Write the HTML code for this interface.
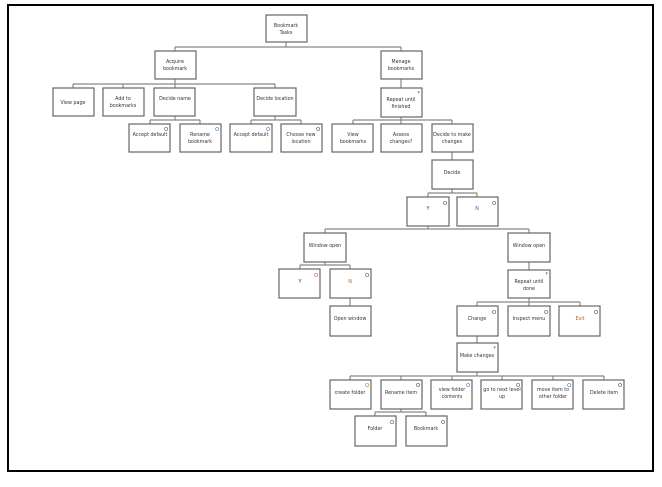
<!DOCTYPE html>
<html><head><meta charset="utf-8"><style>
html,body{margin:0;padding:0;background:#fff}
svg{display:block}
text{font-family:"DejaVu Sans","Liberation Sans",sans-serif;font-size:4.8px;fill:#333;text-anchor:middle}
.m{font-size:5px;text-anchor:end}
rect.b{fill:#fff;stroke:#666;stroke-width:1.2}
path{fill:none;stroke:#888;stroke-width:1.2}
</style></head><body>
<svg width="662" height="487" viewBox="0 0 662 487">
<rect x="8" y="5" width="645" height="466" fill="none" stroke="#000" stroke-width="2"/>
<path d="M286 42V47M175 47H401M175 47V52M401 47V52"/>
<path d="M175 79V84M73 84H275M73 84V88M123 84V88M175 84V88M275 84V88"/>
<path d="M401 79V88"/>
<path d="M175 116V120M150 120H200M150 120V124M200 120V124"/>
<path d="M275 116V120M251 120H301M251 120V124M301 120V124"/>
<path d="M401 117V120M353 120H452M353 120V124M401 120V124M452 120V124"/>
<path d="M452 152V160"/>
<path d="M452 189V193M428 193H477M428 193V197M477 193V197"/>
<path d="M428 226V229M325 229H529M325 229V233M529 229V233"/>
<path d="M325 262V265M300 265H350M300 265V269M350 265V269"/>
<path d="M350 298V306"/>
<path d="M529 262V270"/>
<path d="M529 298V302M477 302H580M477 302V306M529 302V306M580 302V306"/>
<path d="M477 336V343"/>
<path d="M477 372V376M350 376H604M350 376V380M401 376V380M452 376V380M502 376V380M553 376V380M604 376V380"/>
<path d="M401 409V412M375 412H426M375 412V416M426 412V416"/>
<g>
<rect class="b" x="266" y="15" width="41" height="27"/><text x="286" y="27">Bookmark</text><text x="286" y="34">Tasks</text>
<rect class="b" x="155" y="51" width="41" height="28"/><text x="175" y="63">Acquire</text><text x="175" y="70">bookmark</text>
<rect class="b" x="381" y="51" width="41" height="28"/><text x="401" y="63">Manage</text><text x="401" y="70">bookmarks</text>

<rect class="b" x="53" y="88" width="41" height="28"/><text x="73" y="104">View page</text>
<rect class="b" x="103" y="88" width="41" height="28"/><text x="123" y="100">Add to</text><text x="123" y="107">bookmarks</text>
<rect class="b" x="154" y="88" width="41" height="28"/><text x="175" y="100">Decide name</text>
<rect class="b" x="254" y="88" width="42" height="28"/><text x="275" y="100">Decide location</text>
<rect class="b" x="381" y="88" width="41" height="29"/><text x="401" y="101">Repeat until</text><text x="401" y="108">finished</text><text class="m" x="420" y="95">*</text>

<rect class="b" x="129" y="124" width="41" height="28"/><text x="150" y="136">Accept default</text><text class="m" x="168" y="131">O</text>
<rect class="b" x="180" y="124" width="41" height="28"/><text x="200" y="136">Rename</text><text x="200" y="143">bookmark</text><text class="m" x="219" y="131" style="fill:#26a">O</text>
<rect class="b" x="230" y="124" width="42" height="28"/><text x="251" y="136">Accept default</text><text class="m" x="270" y="131" style="fill:#26a">O</text>
<rect class="b" x="281" y="124" width="41" height="28"/><text x="301" y="136">Choose new</text><text x="301" y="143">location</text><text class="m" x="320" y="131">O</text>
<rect class="b" x="332" y="124" width="41" height="28"/><text x="353" y="136">View</text><text x="353" y="143">bookmarks</text>
<rect class="b" x="381" y="124" width="41" height="28"/><text x="401" y="136">Assess</text><text x="401" y="143">changes?</text>
<rect class="b" x="432" y="124" width="41" height="28"/><text x="452" y="136">Decide to make</text><text x="452" y="143">changes</text>

<rect class="b" x="432" y="160" width="41" height="29"/><text x="452" y="174">Decide</text>
<rect class="b" x="407" y="197" width="42" height="29"/><text x="428" y="210">Y</text><text class="m" x="447" y="205">O</text>
<rect class="b" x="457" y="197" width="41" height="29"/><text x="477" y="210" style="fill:#26a">N</text><text class="m" x="496" y="205">O</text>

<rect class="b" x="304" y="233" width="42" height="29"/><text x="325" y="247">Window open</text>
<rect class="b" x="508" y="233" width="42" height="29"/><text x="529" y="247">Window open</text>
<rect class="b" x="279" y="269" width="41" height="29"/><text x="300" y="283">Y</text><text class="m" x="318" y="277" style="fill:#c44">O</text>
<rect class="b" x="330" y="269" width="41" height="29"/><text x="350" y="283" style="fill:#b60">N</text><text class="m" x="369" y="277">O</text>
<rect class="b" x="330" y="306" width="41" height="30"/><text x="350" y="320">Open window</text>
<rect class="b" x="508" y="270" width="42" height="28"/><text x="529" y="283">Repeat until</text><text x="529" y="290">done</text><text class="m" x="548" y="276">*</text>

<rect class="b" x="457" y="306" width="41" height="30"/><text x="477" y="320">Change</text><text class="m" x="496" y="314">O</text>
<rect class="b" x="508" y="306" width="42" height="30"/><text x="529" y="320">Inspect menu</text><text class="m" x="548" y="314">O</text>
<rect class="b" x="559" y="306" width="41" height="30"/><text x="580" y="320" style="fill:#b60">Exit</text><text class="m" x="598" y="314">O</text>

<rect class="b" x="457" y="343" width="41" height="29"/><text x="477" y="357">Make changes</text><text class="m" x="496" y="350">*</text>

<rect class="b" x="330" y="380" width="41" height="29"/><text x="350" y="394">create folder</text><text class="m" x="369" y="387" style="fill:#b60">O</text>
<rect class="b" x="381" y="380" width="41" height="29"/><text x="401" y="394">Rename item</text><text class="m" x="420" y="387">O</text>
<rect class="b" x="431" y="380" width="41" height="29"/><text x="452" y="391">view folder</text><text x="452" y="398">contents</text><text class="m" x="470" y="387" style="fill:#26a">O</text>
<rect class="b" x="481" y="380" width="41" height="29"/><text x="502" y="391">go to next level</text><text x="502" y="398">up</text><text class="m" x="520" y="387">O</text>
<rect class="b" x="532" y="380" width="41" height="29"/><text x="553" y="391">move item to</text><text x="553" y="398">other folder</text><text class="m" x="571" y="387" style="fill:#26a">O</text>
<rect class="b" x="583" y="380" width="41" height="29"/><text x="604" y="394">Delete item</text><text class="m" x="622" y="387">O</text>

<rect class="b" x="355" y="416" width="41" height="30"/><text x="375" y="430">Folder</text><text class="m" x="394" y="424">O</text>
<rect class="b" x="406" y="416" width="41" height="30"/><text x="426" y="430">Bookmark</text><text class="m" x="445" y="424">O</text>
</g>
</svg>
</body></html>
